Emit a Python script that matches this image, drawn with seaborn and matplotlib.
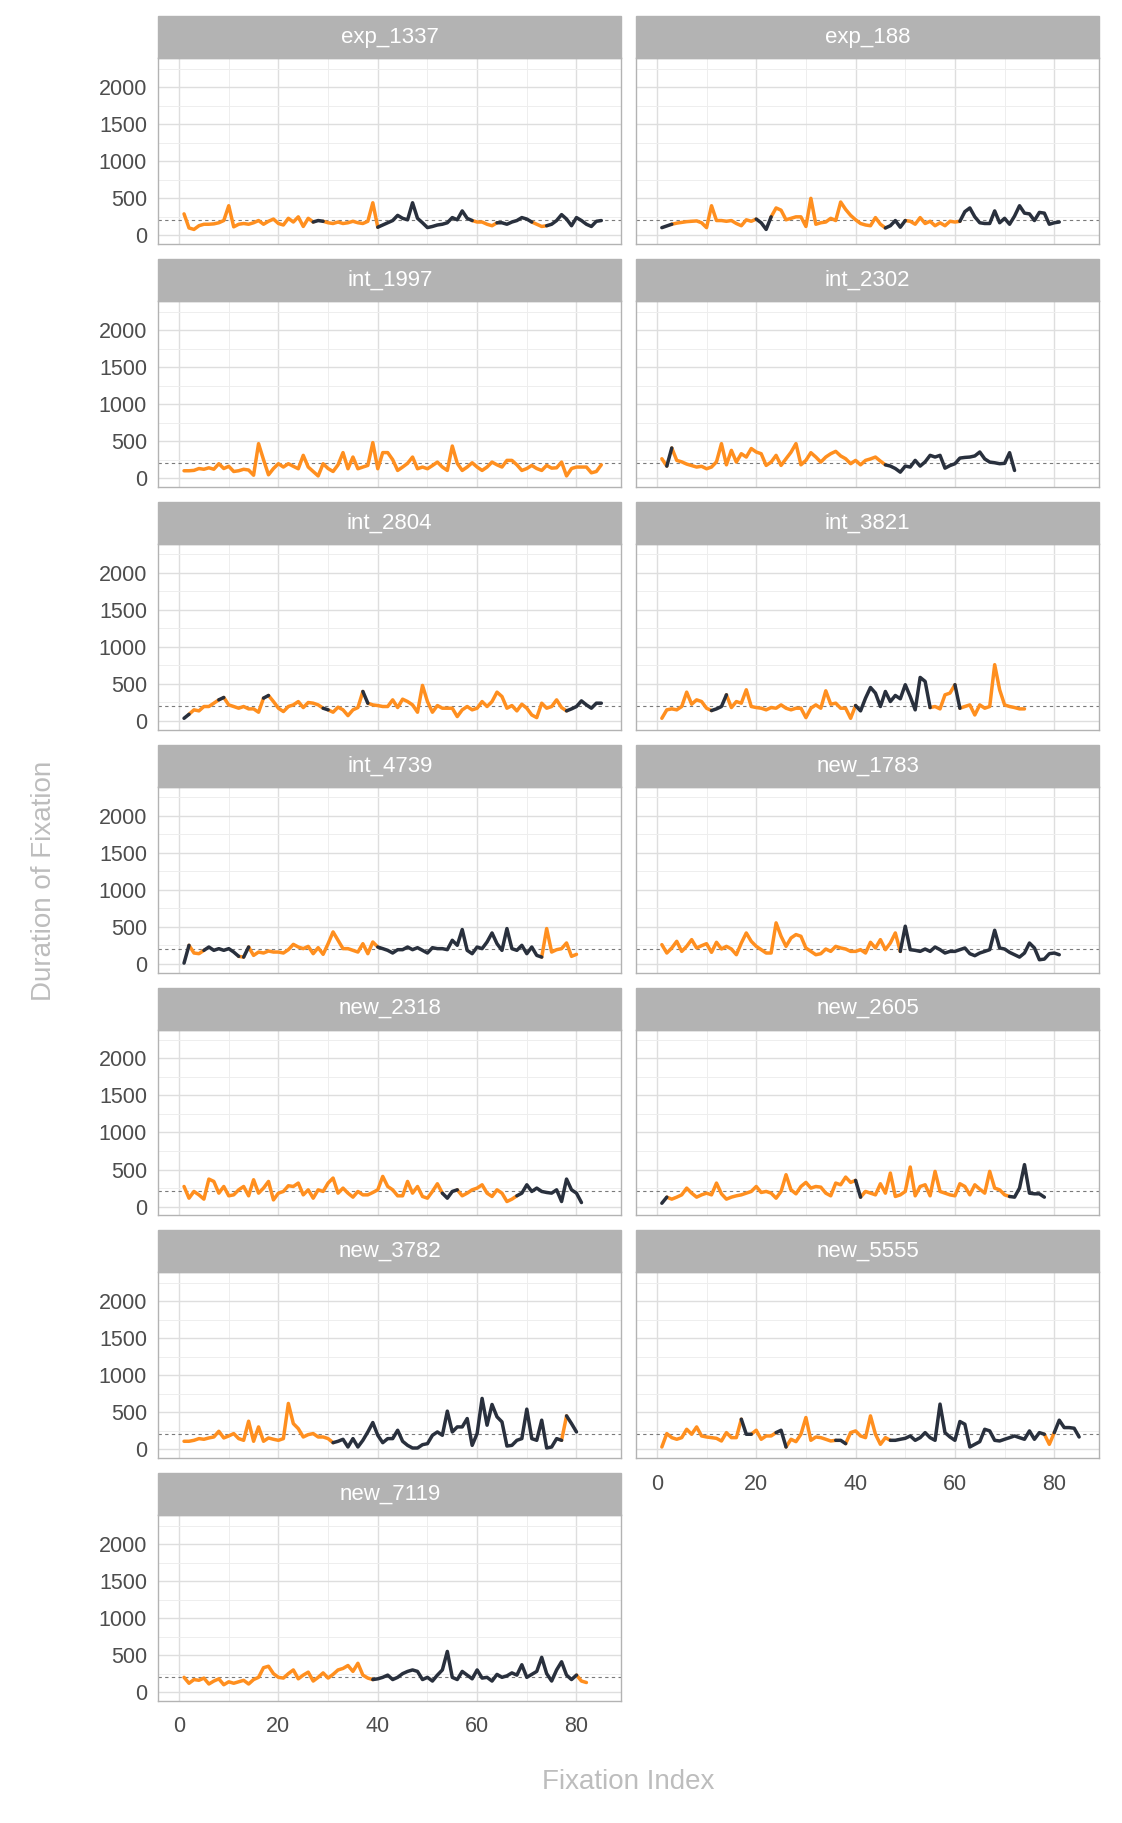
import pandas as pd
import numpy as np
import matplotlib
matplotlib.use("Agg")
import matplotlib.pyplot as plt
from matplotlib.patches import Rectangle
import seaborn as sns

# participants, one facet each
participants = ['exp_1337', 'exp_188', 'int_1997', 'int_2302', 'int_2804', 'int_3821', 'int_4739',
                'new_1783', 'new_2318', 'new_2605', 'new_3782', 'new_5555', 'new_7119']

# fixation durations (ms), fixation index starts at 1
exp_1337 = [290, 100, 80, 130, 150, 150, 155, 170, 200, 400,
            115, 150, 160, 150, 170, 200, 150, 190, 220, 160,
            140, 230, 180, 250, 120, 230, 180, 200, 190, 170,
            160, 180, 160, 170, 190, 170, 160, 190, 440, 110,
            140, 170, 200, 270, 230, 210, 440, 230, 170, 105,
            120, 140, 150, 170, 240, 210, 330, 230, 200, 180,
            180, 150, 130, 170, 170, 150, 180, 200, 240, 220,
            180, 150, 120, 130, 150, 200, 280, 220, 130, 240,
            200, 150, 120, 190, 200]
exp_188 = [104, 127, 150, 165, 175, 185, 190, 195, 170, 104,
           400, 200, 200, 190, 200, 160, 130, 210, 190, 220,
           170, 80, 250, 370, 340, 210, 230, 250, 250, 120,
           500, 150, 170, 180, 230, 200, 450, 350, 270, 210,
           160, 140, 130, 240, 150, 100, 130, 200, 110, 200,
           190, 150, 240, 160, 190, 130, 170, 130, 190, 180,
           190, 320, 370, 250, 170, 160, 160, 330, 170, 230,
           150, 260, 400, 300, 290, 200, 310, 300, 150, 170,
           180]
int_1997 = [100, 100, 105, 130, 120, 140, 120, 195, 130, 160,
            90, 100, 120, 110, 40, 466, 250, 45, 130, 195,
            150, 195, 160, 127, 308, 150, 90, 30, 195, 130,
            90, 180, 345, 127, 285, 127, 150, 172, 480, 127,
            345, 345, 250, 104, 150, 200, 285, 127, 150, 127,
            170, 217, 150, 104, 434, 200, 104, 150, 208, 150,
            104, 150, 217, 180, 150, 240, 240, 180, 104, 130,
            172, 130, 104, 172, 135, 140, 217, 30, 130, 150,
            150, 150, 72, 90, 180]
int_2302 = [262, 163, 407, 240, 220, 190, 170, 150, 160, 127,
            150, 220, 466, 180, 375, 217, 330, 285, 400, 353,
            330, 172, 217, 308, 172, 262, 350, 466, 180, 240,
            344, 285, 217, 285, 330, 362, 300, 262, 195, 240,
            180, 240, 260, 285, 230, 180, 163, 130, 81, 163,
            150, 240, 163, 220, 308, 285, 308, 135, 170, 195,
            271, 280, 285, 300, 353, 260, 217, 208, 195, 200,
            344, 104]
int_2804 = [36, 90, 150, 136, 195, 195, 240, 285, 317, 217,
            195, 172, 195, 163, 163, 118, 308, 344, 262, 172,
            127, 195, 217, 262, 181, 249, 240, 217, 172, 150,
            118, 186, 150, 72, 150, 181, 398, 240, 217, 208,
            195, 195, 285, 181, 294, 262, 217, 118, 480, 262,
            118, 208, 172, 172, 172, 59, 150, 195, 150, 172,
            262, 195, 262, 389, 330, 172, 208, 136, 226, 172,
            81, 45, 240, 172, 195, 285, 181, 136, 163, 195,
            271, 217, 172, 240, 240]
int_3821 = [36, 150, 163, 150, 195, 389, 226, 285, 262, 172,
            140, 163, 195, 353, 181, 262, 240, 421, 195, 181,
            172, 150, 181, 172, 217, 172, 150, 172, 172, 45,
            172, 217, 172, 407, 226, 240, 172, 172, 36, 208,
            136, 308, 452, 376, 195, 398, 262, 344, 299, 489,
            330, 150, 588, 534, 181, 195, 163, 353, 376, 489,
            172, 195, 217, 81, 217, 172, 195, 760, 421, 217,
            195, 181, 163, 163]
int_4739 = [9, 249, 145, 136, 181, 226, 181, 204, 181, 204,
            158, 100, 90, 226, 113, 158, 145, 172, 158, 158,
            145, 190, 262, 226, 204, 235, 136, 217, 127, 271,
            430, 317, 204, 204, 181, 158, 271, 136, 294, 226,
            204, 181, 145, 190, 190, 226, 190, 217, 181, 145,
            217, 204, 204, 190, 317, 249, 462, 181, 136, 226,
            204, 294, 416, 271, 181, 475, 204, 181, 249, 136,
            226, 113, 90, 475, 158, 190, 204, 281, 100, 127]
new_1783 = [258, 145, 213, 303, 167, 235, 326, 213, 244, 271,
            154, 290, 199, 235, 199, 122, 280, 416, 303, 235,
            190, 145, 145, 552, 371, 235, 348, 394, 371, 213,
            167, 122, 136, 199, 167, 235, 213, 199, 167, 167,
            190, 145, 290, 213, 326, 190, 280, 416, 167, 507,
            190, 181, 167, 199, 167, 226, 190, 145, 167, 167,
            190, 213, 136, 109, 145, 167, 190, 452, 213, 199,
            154, 122, 90, 145, 280, 213, 54, 63, 136, 145,
            122]
new_2318 = [271, 113, 204, 158, 100, 371, 339, 181, 271, 145,
            158, 226, 271, 145, 362, 181, 249, 339, 90, 181,
            204, 281, 271, 317, 158, 226, 113, 226, 204, 317,
            385, 181, 249, 181, 127, 204, 158, 158, 190, 226,
            407, 271, 226, 145, 145, 339, 181, 271, 136, 113,
            204, 308, 181, 113, 204, 226, 145, 181, 226, 249,
            294, 181, 136, 226, 181, 68, 100, 145, 181, 294,
            204, 249, 204, 190, 181, 226, 68, 371, 226, 181,
            54]
new_2605 = [45, 127, 100, 127, 158, 249, 181, 127, 158, 181,
            158, 317, 172, 100, 127, 145, 158, 181, 204, 271,
            190, 204, 181, 113, 204, 430, 226, 172, 271, 326,
            249, 271, 262, 181, 145, 317, 294, 398, 326, 353,
            127, 204, 181, 158, 308, 181, 452, 136, 158, 204,
            534, 145, 271, 294, 145, 475, 204, 181, 158, 145,
            308, 271, 158, 294, 235, 181, 475, 249, 226, 158,
            136, 127, 249, 566, 181, 172, 172, 127]
new_3782 = [109, 109, 122, 145, 136, 154, 167, 244, 154, 181,
            213, 145, 122, 380, 109, 303, 109, 154, 136, 122,
            145, 620, 348, 280, 167, 199, 213, 167, 167, 145,
            90, 109, 136, 32, 145, 32, 122, 235, 362, 190,
            90, 145, 145, 258, 109, 54, 18, 18, 63, 77,
            190, 235, 190, 516, 235, 303, 303, 416, 54, 213,
            688, 326, 606, 439, 371, 45, 54, 122, 145, 543,
            145, 122, 394, 18, 32, 145, 122, 452, 348, 235]
new_5555 = [32, 213, 158, 136, 158, 271, 204, 303, 181, 167,
            158, 149, 113, 226, 158, 158, 407, 204, 204, 258,
            136, 181, 181, 226, 258, 32, 136, 104, 204, 430,
            122, 167, 158, 136, 113, 122, 122, 77, 226, 249,
            181, 158, 452, 204, 68, 158, 122, 122, 136, 149,
            181, 122, 158, 226, 158, 122, 611, 226, 167, 122,
            376, 339, 32, 68, 104, 271, 249, 122, 113, 136,
            158, 181, 158, 136, 249, 136, 226, 204, 68, 226,
            394, 294, 294, 285, 167]
new_7119 = [200, 120, 170, 160, 190, 110, 150, 180, 100, 140,
            120, 140, 160, 110, 170, 200, 330, 350, 250, 200,
            190, 250, 300, 180, 230, 270, 150, 200, 260, 190,
            240, 300, 320, 360, 280, 390, 230, 190, 170, 180,
            200, 230, 170, 200, 250, 280, 300, 280, 170, 200,
            150, 230, 300, 550, 200, 170, 280, 230, 180, 300,
            190, 200, 150, 240, 200, 220, 260, 230, 370, 200,
            240, 280, 470, 250, 150, 300, 410, 230, 170, 230,
            150, 130]

# lengths of consecutive runs of fixations, alternating state from the first one
exp_1337_runs = [26, 2, 11, 19, 5, 7, 3, 12]
exp_188_runs = [2, 17, 3, 23, 4, 11, 21]
int_1997_runs = [85]
int_2302_runs = [1, 1, 43, 27]
int_2804_runs = [1, 6, 1, 8, 1, 11, 1, 7, 1, 40, 8]
int_3821_runs = [10, 3, 26, 15, 5, 1, 13, 1]
int_4739_runs = [1, 3, 7, 1, 1, 26, 33, 8]
new_1783_runs = [48, 33]
new_2318_runs = [52, 3, 12, 14]
new_2605_runs = [1, 38, 1, 30, 8]
new_3782_runs = [30, 46, 1, 3]
new_5555_runs = [16, 2, 5, 2, 10, 2, 9, 31, 2, 6]
new_7119_runs = [38, 41, 3]

first_state = {'exp_1337': 'target', 'exp_188': 'other', 'int_1997': 'target', 'int_2302': 'target',
               'int_2804': 'other', 'int_3821': 'target', 'int_4739': 'other', 'new_1783': 'target',
               'new_2318': 'target', 'new_2605': 'other', 'new_3782': 'target', 'new_5555': 'target',
               'new_7119': 'target'}

ref_duration = 205

durations = {'exp_1337': exp_1337, 'exp_188': exp_188, 'int_1997': int_1997, 'int_2302': int_2302,
             'int_2804': int_2804, 'int_3821': int_3821, 'int_4739': int_4739, 'new_1783': new_1783,
             'new_2318': new_2318, 'new_2605': new_2605, 'new_3782': new_3782, 'new_5555': new_5555,
             'new_7119': new_7119}
runs = {'exp_1337': exp_1337_runs, 'exp_188': exp_188_runs, 'int_1997': int_1997_runs,
        'int_2302': int_2302_runs, 'int_2804': int_2804_runs, 'int_3821': int_3821_runs,
        'int_4739': int_4739_runs, 'new_1783': new_1783_runs, 'new_2318': new_2318_runs,
        'new_2605': new_2605_runs, 'new_3782': new_3782_runs, 'new_5555': new_5555_runs,
        'new_7119': new_7119_runs}

# long table, each run also takes the first point of the next run so the line stays joined
rows = []
for name in participants:
    vals = durations[name]
    state = first_state[name]
    start = 0
    for k, n in enumerate(runs[name]):
        stop = start + n
        end = min(stop + 1, len(vals))
        for i in range(start, end):
            rows.append((name, i + 1, vals[i], state, name + '_' + str(k)))
        start = stop
        state = 'other' if state == 'target' else 'target'
df = pd.DataFrame(rows, columns=['participant', 'fixation', 'duration', 'state', 'run'])

sns.set_style("white")
plt.rcParams['font.family'] = ['Liberation Sans', 'DejaVu Sans']
plt.rcParams['lines.solid_capstyle'] = 'round'
plt.rcParams['lines.solid_joinstyle'] = 'round'

g = sns.relplot(data=df, x='fixation', y='duration', hue='state', units='run', estimator=None,
                col='participant', col_order=participants, col_wrap=2, kind='line',
                palette={'target': '#FF8F1F', 'other': '#29303D'}, linewidth=2.5, legend=False,
                height=2.5, aspect=2.5, facet_kws=dict(sharex=True, sharey=True, despine=False))

g.set_titles("")
g.set_axis_labels("", "")
strip_h = 0.226
for i, (name, ax) in enumerate(zip(participants, g.axes.flat)):
    ax.set_xlim(-4.2, 89)
    ax.set_ylim(-120, 2390)
    ax.set_xticks([0, 20, 40, 60, 80])
    ax.set_xticks([10, 30, 50, 70], minor=True)
    ax.set_yticks([0, 500, 1000, 1500, 2000])
    ax.set_yticks([250, 750, 1250, 1750, 2250], minor=True)
    ax.grid(which='major', color='#DEDEDE', linewidth=1.0)
    ax.grid(which='minor', color='#EEEEEE', linewidth=0.7)
    ax.set_axisbelow(True)
    ax.axhline(ref_duration, color='#7A7A7A', linestyle=(0, (3, 3)), linewidth=0.8, zorder=1.5)
    for sp in ax.spines.values():
        sp.set_color('#B3B3B3')
        sp.set_linewidth(1.0)
    ax.tick_params(which='major', length=4, width=0.8, color='#B3B3B3',
                   labelcolor='#4D4D4D', labelsize=15.5)
    ax.tick_params(axis='y', pad=4)
    ax.tick_params(axis='x', pad=7)
    ax.tick_params(which='minor', length=0)
    if i % 2 == 1:
        ax.tick_params(left=False)
    if i < 11:
        ax.tick_params(bottom=False)
    ax.add_patch(Rectangle((0, 1), 1, strip_h, transform=ax.transAxes, clip_on=False,
                           facecolor='#B3B3B3', edgecolor='#B3B3B3', linewidth=1.0))
    ax.text(0.5, 1 + strip_h / 2, name, transform=ax.transAxes, ha='center', va='center',
            color='white', fontsize=16)

fig = g.figure
fig.set_size_inches(11.22, 18.23)
fig.subplots_adjust(left=0.141, right=0.9795, top=0.968, bottom=0.0669, wspace=0.032, hspace=0.306)
fig.text(0.5596, 0.0226, 'Fixation Index', ha='center', va='center', color='#BDBDBD', fontsize=20)
fig.text(0.039, 0.517, 'Duration of Fixation', ha='center', va='center', rotation=90,
         color='#BDBDBD', fontsize=20)
fig.savefig('out.png', dpi=100, facecolor='white')
